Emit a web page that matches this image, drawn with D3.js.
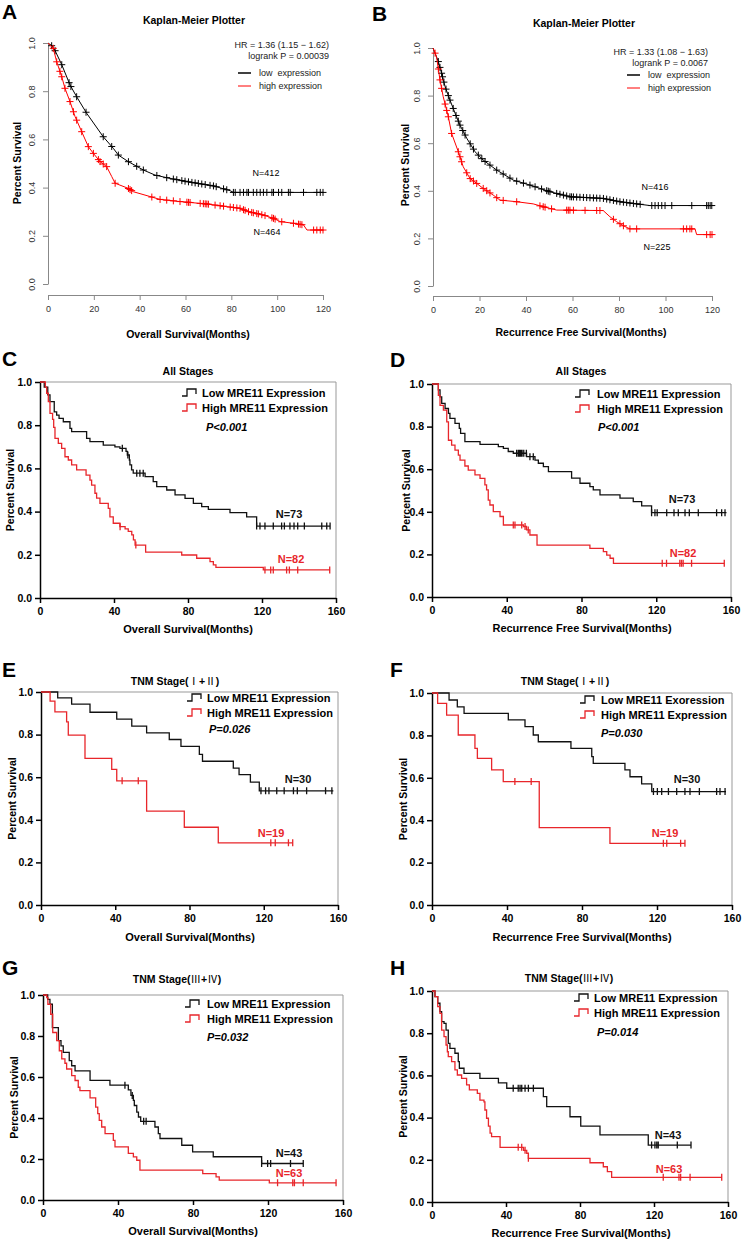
<!DOCTYPE html>
<meta charset="utf-8">
<style>
body { margin: 0; background: #fff; }
svg { display: block; font-family: "Liberation Sans", Arial, sans-serif; }
.tick text { font-family: "Liberation Sans", Arial, sans-serif; }
.plotter .domain, .plotter .tick line { stroke: #888; }
.plotter .tick text { fill: #333; font-size: 9px; }
.prism .domain, .prism .tick line { stroke: #000; stroke-width: 1.5px; }
.prism .tick text { fill: #000; font-size: 10.5px; font-weight: bold; }
.roman { font-family: "Noto Sans CJK SC", "Noto Sans CJK JP", sans-serif; font-weight: normal; }
</style>
<body>
<svg width="742" height="1241"></svg>
<script src="https://d3js.org/d3.v7.min.js"></script>
<script>

// ---- ticks ----
var survTicks = [0, 0.2, 0.4, 0.6, 0.8, 1.0];
var plotterMonths = [0, 20, 40, 60, 80, 100, 120];
var prismMonths = [0, 40, 80, 120, 160];

// ---- panel A : KM plotter, overall survival ----
var aLow = [[0,1],[1.5,0.99],[3,0.97],[6,0.91],[9.6,0.826],[12.5,0.777],[16.9,0.708],[24.1,0.611],[28.5,0.563],[30.7,0.535],[35,0.508],[41.6,0.473],[46.7,0.452],[53.3,0.438],[60.6,0.425],[72.2,0.407],[79.5,0.387],[80.9,0.38],[120,0.38]];
var aLowCens = [1.6,3.1,6,9.2,10,12.5,16.6,24.1,27.8,30.7,35.1,38.7,41.6,47.5,51.8,54.7,56.2,58.4,59.8,61.3,62.8,64.2,65.6,67.1,68.6,70.7,72.2,73.4,76.6,78,80.9,81.7,83.8,85.3,86.8,87.5,89.6,91.1,92.6,94,95.5,97.7,98.4,100.6,102,104.9,105.7,111.5,117.3,118.8,120];
var aHigh = [[0,1],[2.3,0.978],[3.8,0.922],[6,0.86],[7.4,0.812],[9.6,0.757],[11.8,0.695],[14.7,0.632],[17.6,0.57],[19.8,0.542],[22.7,0.508],[25.6,0.487],[27.8,0.446],[29.3,0.418],[35,0.397],[37.2,0.383],[44.5,0.363],[48.9,0.351],[57.6,0.342],[69.3,0.332],[78,0.321],[83.8,0.314],[87.5,0.3],[94,0.286],[98.5,0.272],[101.3,0.259],[107.1,0.252],[111.5,0.245],[113,0.224],[120,0.224]];
var aHighCens = [2.3,3.8,5.2,6,7.4,9.6,11.1,12.5,14.7,17.6,19.8,22,22.7,24.1,25.6,29.3,35.1,35.8,36.5,45.3,48.9,51.8,54.7,57.6,60.6,61.3,62,66.4,67.8,68.6,69.3,70,72.9,75.1,76.6,79.5,80.9,82.4,83.8,85.3,86,87.5,88.9,89.6,91.1,91.8,93.3,94.7,97.7,98.4,99.1,102,107.1,109.3,110,110.8,115.9,117.3,118.8,120];

// ---- panel B : KM plotter, recurrence free survival ----
var bLow = [[0,1],[2.3,0.943],[3.7,0.894],[5.2,0.838],[7.3,0.781],[9.5,0.726],[11.6,0.676],[14.5,0.621],[18.1,0.564],[21.6,0.529],[27.4,0.487],[34.5,0.445],[41.7,0.424],[50.3,0.396],[58.9,0.375],[73.2,0.368],[80.4,0.354],[93.3,0.338],[120,0.338]];
var bLowCens = [2.3,3,3.7,4.1,4.7,5.6,6.6,7.3,8.7,9.9,10.9,11.6,12.8,13.8,16,17.4,19.5,21,22.4,24.5,27.4,30.2,33.1,36,38.9,41.7,43.9,46.7,48.9,49.6,50.3,53.2,54.6,56.1,57.5,58.9,59.6,60.4,61.8,63.2,64.7,66.1,67.5,69,70.4,71.8,73.3,74.7,76.1,77.6,79,80.4,81.9,83.3,84.7,86.2,87.6,89.1,94.1,95.5,96.9,98.4,99.8,102.7,111.3,117.7,118.4,119.2,119.9];
var bHigh = [[0,1],[1.5,0.964],[3,0.866],[4.4,0.795],[6.6,0.711],[8,0.641],[10.9,0.564],[13,0.501],[15.9,0.452],[18.8,0.431],[21.6,0.41],[25.9,0.382],[28.8,0.361],[36,0.354],[43.1,0.345],[47.4,0.333],[53.2,0.319],[73.2,0.317],[76.1,0.291],[79,0.27],[81.9,0.253],[84.7,0.24],[112.7,0.24],[113.4,0.216],[120,0.216]];
var bHighCens = [0.9,2.3,3,3.7,5.2,5.9,6.6,8,10.9,11.6,12.3,14.5,16,17.4,18.8,21.6,23.1,24.5,27.4,30.2,36,46,47.4,48.2,51,57.5,58.2,58.9,60.4,65.4,70.4,71.8,77.6,80.4,81.9,84.7,87.6,107.7,109.1,110.5,111.3,117.7,119.2,120];

// ---- panel C : all stages, OS ----
var cLow = [[0,1],[2.3,0.976],[4.2,0.94],[5.4,0.909],[7.7,0.862],[9,0.847],[10.3,0.832],[12.6,0.816],[16.2,0.785],[17.1,0.77],[25.2,0.739],[27,0.724],[34.2,0.708],[40.5,0.7],[43.2,0.693],[46.5,0.679],[47.2,0.662],[48.3,0.639],[48.6,0.616],[49.5,0.593],[50.4,0.578],[56.8,0.562],[61.2,0.539],[63.1,0.516],[68.5,0.5],[73,0.477],[78.4,0.461],[82.9,0.438],[87.4,0.423],[91,0.41],[102.7,0.395],[111.7,0.376],[117.1,0.333],[156.8,0.333]];
var cLowCens = [44.5,47.5,52.3,54,55.8,117.1,118.9,121.6,126.1,130.6,132.1,135.1,137.3,139.3,142.9,152.3,155,156.8];
var cHigh = [[0,1],[2.9,0.976],[3.6,0.948],[4.5,0.909],[5.4,0.855],[6.8,0.827],[7.4,0.79],[8.1,0.739],[9.9,0.716],[11.7,0.693],[13.5,0.654],[15.3,0.639],[17.1,0.616],[19.8,0.593],[24.9,0.569],[27,0.546],[27.9,0.523],[29.7,0.485],[30.6,0.462],[32.4,0.438],[36.9,0.415],[37.8,0.376],[39.6,0.346],[43.2,0.33],[46,0.32],[47.7,0.308],[49.6,0.292],[50.5,0.269],[51.4,0.245],[57.1,0.212],[76.6,0.199],[84.7,0.184],[91.9,0.168],[93.7,0.153],[95.1,0.142],[120.7,0.13],[156.8,0.13]];
var cHighCens = [43.3,51.8,121.6,124.7,126.1,133.3,134.8,139.3,156.6];

// ---- panel D : all stages, RFS ----
var dLow = [[0,1],[3.4,0.972],[4.3,0.94],[5.2,0.909],[7,0.885],[8.8,0.862],[9.6,0.839],[12.3,0.815],[14.6,0.792],[15.3,0.768],[17.6,0.729],[25.7,0.717],[35.5,0.706],[38.2,0.698],[40.8,0.683],[43.5,0.675],[50.6,0.659],[55.1,0.643],[56.9,0.628],[59.6,0.612],[62.3,0.589],[74.7,0.558],[79.2,0.534],[84.5,0.518],[86.3,0.503],[89.9,0.479],[100.6,0.464],[107.7,0.448],[112.2,0.428],[117.5,0.396],[157.6,0.396]];
var dLowCens = [45.3,46.2,46.8,47.5,48.2,49.1,50.5,52.4,54.2,117.5,119.3,120.5,125.6,129.5,131.8,135.4,137.7,142.5,152.3,155,156.8];
var dHigh = [[0,1],[3.4,0.947],[4.3,0.9],[6.1,0.877],[7.9,0.822],[8.8,0.736],[10.5,0.713],[12.3,0.69],[14.1,0.666],[15,0.643],[17.6,0.615],[19.4,0.596],[23,0.573],[25.7,0.557],[28.3,0.526],[29.2,0.503],[30.1,0.455],[31,0.432],[32.8,0.401],[36.4,0.378],[38.2,0.338],[48.9,0.331],[50.6,0.315],[52.4,0.291],[56.2,0.244],[84.5,0.228],[91.7,0.213],[93.5,0.197],[95.3,0.182],[97.1,0.158],[156.4,0.158]];
var dHighCens = [43.5,44.4,48,49.8,51.5,123.2,125.5,132.6,133.5,134.4,138.9,156.4];

// ---- panel E : TNM I+II, OS ----
var eLow = [[0,1],[9,0.972],[16.5,0.943],[26.4,0.905],[40.8,0.873],[48.9,0.84],[56.9,0.808],[69.1,0.777],[75.4,0.745],[85.3,0.707],[87,0.675],[103.6,0.643],[106.7,0.612],[112.8,0.577],[117.6,0.536],[157.5,0.536]];
var eLowCens = [118.5,121,122.8,127,131,136,138.1,143.1,153.3,156.7];
var eHigh = [[0,1],[4.9,0.957],[7.5,0.907],[13.8,0.86],[14.7,0.798],[23.7,0.688],[38.1,0.637],[40.8,0.583],[56.9,0.441],[77.2,0.365],[95.5,0.292],[135.6,0.292]];
var eHighCens = [43.7,52.4,123.8,126.2,133.3,135.6];

// ---- panel F : TNM I+II, RFS ----
var fLow = [[0,1],[9.1,0.967],[13.5,0.935],[17.1,0.904],[40.7,0.873],[49.6,0.841],[54,0.802],[56.7,0.77],[74.1,0.739],[85.2,0.7],[86,0.668],[102.9,0.637],[105.6,0.605],[111.8,0.571],[117.2,0.535],[156.8,0.535]];
var fLowCens = [118.1,120.2,122.5,126.1,130.5,134.9,137.6,142.6,151.8,153.6,156.3];
var fHigh = [[0,1],[3,0.951],[7.8,0.896],[14,0.802],[22.9,0.739],[24.2,0.692],[31.8,0.637],[38,0.582],[57.2,0.365],[94.9,0.291],[134.9,0.291]];
var fHighCens = [44.2,52.9,123.4,125.2,132.6,134.9];

// ---- panel G : TNM III+IV, OS ----
var gLow = [[0,1],[2.5,0.979],[3.7,0.955],[5,0.841],[8.2,0.777],[9.6,0.752],[10.8,0.72],[14,0.68],[15.3,0.655],[17.1,0.63],[25.1,0.584],[35.7,0.56],[45.5,0.537],[46.9,0.51],[48.2,0.486],[48.7,0.461],[50,0.429],[50.9,0.405],[52.1,0.384],[59.7,0.356],[61.5,0.324],[62.4,0.3],[74,0.267],[79.8,0.235],[90.8,0.211],[116.6,0.178],[138.8,0.178]];
var gLowCens = [43.7,47.6,53.7,55,116.6,119.8,121.4,132,138.8];
var gHigh = [[0,1],[2,0.987],[2.6,0.955],[4.1,0.906],[5.2,0.817],[7.3,0.777],[8.7,0.728],[10,0.688],[11.7,0.667],[12.6,0.639],[15.3,0.607],[17.1,0.583],[18.8,0.55],[19.7,0.534],[25.1,0.498],[28.1,0.453],[29.2,0.421],[30,0.388],[31.3,0.356],[33.1,0.324],[37.5,0.291],[38.4,0.259],[45.5,0.227],[48.2,0.21],[50,0.194],[51.7,0.146],[85.2,0.129],[92.3,0.113],[94,0.097],[120.7,0.084],[156.3,0.084]];
var gHighCens = [125.1,133.2,134.1,138.8,156.3];

// ---- panel H : TNM III+IV, RFS ----
var hLow = [[0,1],[1.6,0.973],[3.1,0.942],[4.3,0.902],[5.2,0.855],[6.5,0.847],[7.6,0.815],[8.8,0.752],[9.7,0.728],[12.4,0.705],[14.2,0.665],[14.8,0.634],[17.3,0.61],[25.9,0.586],[35.9,0.565],[40.4,0.539],[60.2,0.499],[62,0.452],[74.6,0.404],[80.4,0.36],[90.8,0.318],[116.9,0.27],[140,0.27]];
var hLowCens = [43.9,46.6,47.6,48.5,50.3,52.1,54.8,118.7,120.5,121.5,122.3,132.6,140];
var hHigh = [[0,1],[1.6,0.973],[3.1,0.926],[4.3,0.894],[5.2,0.815],[6.5,0.784],[7.6,0.744],[8.3,0.712],[8.8,0.689],[10.6,0.665],[12.4,0.626],[13.7,0.602],[16,0.586],[18.7,0.555],[20.2,0.531],[24.5,0.515],[25.9,0.483],[28.1,0.475],[28.6,0.436],[29.5,0.397],[30.5,0.36],[31.4,0.326],[32.2,0.31],[36.8,0.259],[49.5,0.245],[51.2,0.231],[52.1,0.207],[85.4,0.186],[92.6,0.167],[94.8,0.144],[97.1,0.117],[156.6,0.117]];
var hHighCens = [46.6,48.5,50.3,52.1,125,133.5,134.4,139.5,156.6];

// ---- texts ----
var letters = ["A", "B", "C", "D", "E", "F", "G", "H"];
var panelTitles = ["Kaplan-Meier Plotter", "Kaplan-Meier Plotter", "All Stages", "All Stages",
                   "TNM Stage(Ⅰ+Ⅱ)", "TNM Stage(Ⅰ+Ⅱ)", "TNM Stage(Ⅲ+Ⅳ)", "TNM Stage(Ⅲ+Ⅳ)"];
var xTitles = ["Overall Survival(Months)", "Recurrence Free Survival(Months)"];
var hrTexts = ["HR = 1.36 (1.15 − 1.62)", "HR = 1.33 (1.08 − 1.63)"];
var logrankTexts = ["logrank P = 0.00039", "logrank P = 0.0067"];
var plotterLegend = ["low  expression", "high expression"];
var prismLegendLow = ["Low MRE11 Expression", "Low MRE11 Expression", "Low MRE11 Expression",
                      "Low MRE11 Exoression", "Low MRE11 Expression", "Low MRE11 Expression"];
var prismLegendHigh = "High MRE11 Expression";
var pValues = ["P<0.001", "P<0.001", "P=0.026", "P=0.030", "P=0.032", "P=0.014"];
var nLow = ["N=412", "N=416", "N=73", "N=73", "N=30", "N=30", "N=43", "N=43"];
var nHigh = ["N=464", "N=225", "N=82", "N=82", "N=19", "N=19", "N=63", "N=63"];

var RED = "#e8262b";
var svg = d3.select("svg");

// survival level at time t
function stepAt(pts, t) {
  var s = pts[0][1];
  pts.forEach(function(p) { if (p[0] <= t) s = p[1]; });
  return s;
}
function linAt(pts, t) {
  for (var i = 1; i < pts.length; i++) {
    if (pts[i][0] >= t) {
      var a = pts[i-1], b = pts[i];
      var f = b[0] === a[0] ? 1 : (t - a[0]) / (b[0] - a[0]);
      return a[1] + f * (b[1] - a[1]);
    }
  }
  return pts[pts.length-1][1];
}

function rotLabel(g, txt, cx, cy) {
  g.append("text")
    .attr("transform", "translate(" + (cx + 4) + "," + cy + ") rotate(-90)")
    .attr("text-anchor", "middle")
    .style("font-size", "10.5px").style("font-weight", "bold")
    .text(txt);
}

function letter(i, lx, ly) {
  svg.append("text").attr("x", lx).attr("y", ly)
    .style("font-size", "21px").style("font-weight", "bold")
    .text(letters[i]);
}

// title text, roman numerals set in a CJK face like the original
function titleText(sel, str) {
  str.split(/([ⅠⅡⅢⅣ])/).forEach(function(part) {
    if (!part) return;
    var t = sel.append("tspan").text(part);
    if (/[ⅠⅡⅢⅣ]/.test(part)) t.attr("class", "roman");
  });
}

// ================= KM plotter panels (A, B) =================
var plotterPanels = [
  {i: 0, lx: 2, ly: 19, xr: [48, 323], yr: [284, 43], axisY: 295, titleX: 194, titleY: 24,
   xlabX: 188, xlabY: 338, ylabX: 17, ylabY: 163, hrX: 329, hrY: 48, legX: 238, legY: 73,
   low: aLow, lowC: aLowCens, high: aHigh, highC: aHighCens, nLowPos: [266, 176], nHighPos: [267, 235]},
  {i: 1, lx: 372, ly: 21, xr: [433, 712], yr: [286, 48], axisY: 296, titleX: 584, titleY: 27,
   xlabX: 581, xlabY: 336, ylabX: 405, ylabY: 165, hrX: 708, hrY: 55, legX: 627, legY: 75,
   low: bLow, lowC: bLowCens, high: bHigh, highC: bHighCens, nLowPos: [655, 190], nHighPos: [657, 250]}
];

plotterPanels.forEach(function(p) {
  var x = d3.scaleLinear().domain([0, 120]).range(p.xr),
      y = d3.scaleLinear().domain([0, 1]).range(p.yr);
  var g = svg.append("g").attr("class", "plotter");

  letter(p.i, p.lx, p.ly);

  var ya = g.append("g").attr("transform", "translate(" + p.xr[0] + ",0)")
    .call(d3.axisLeft(y).tickValues(survTicks).tickSize(5).tickSizeOuter(0).tickFormat(d3.format(".1f")));
  ya.selectAll(".tick text")
    .attr("x", 0).attr("dy", null).attr("text-anchor", "middle")
    .attr("transform", "translate(-13,0) rotate(-90)");

  g.append("g").attr("transform", "translate(0," + p.axisY + ")")
    .call(d3.axisBottom(x).tickValues(plotterMonths).tickSize(5).tickSizeOuter(0).tickPadding(6));

  g.append("text").attr("x", p.titleX).attr("y", p.titleY).attr("text-anchor", "middle")
    .style("font-size", "10.5px").style("font-weight", "bold").text(panelTitles[p.i]);
  g.append("text").attr("x", p.xlabX).attr("y", p.xlabY).attr("text-anchor", "middle")
    .style("font-size", "10.5px").style("font-weight", "bold").text(xTitles[p.i]);
  rotLabel(g, "Percent Survival", p.ylabX, p.ylabY);

  var line = d3.line().x(function(d) { return x(d[0]); }).y(function(d) { return y(d[1]); });

  [[p.low, p.lowC, "#000"], [p.high, p.highC, "#f00"]].forEach(function(c) {
    g.append("path").datum(c[0]).attr("d", line)
      .attr("fill", "none").attr("stroke", c[2]).attr("stroke-width", 1);
    g.append("path")
      .attr("d", c[1].map(function(t) {
        var px = x(t), py = y(linAt(c[0], t));
        return "M" + (px - 3.5) + "," + py + "H" + (px + 3.5) + "M" + px + "," + (py - 3.5) + "V" + (py + 3.5);
      }).join(""))
      .attr("fill", "none").attr("stroke", c[2]).attr("stroke-width", 1);
  });

  // legend
  g.append("text").attr("x", p.hrX).attr("y", p.hrY).attr("text-anchor", "end")
    .style("font-size", "9px").style("fill", "#222").text(hrTexts[p.i]);
  g.append("text").attr("x", p.hrX).attr("y", p.hrY + 11).attr("text-anchor", "end")
    .style("font-size", "9px").style("fill", "#222").text(logrankTexts[p.i]);
  ["#000", "#f00"].forEach(function(col, k) {
    var ly = p.legY + k * 13;
    g.append("line").attr("x1", p.legX).attr("x2", p.legX + 13).attr("y1", ly).attr("y2", ly)
      .attr("stroke", col).attr("stroke-width", k ? 1 : 1.5);
    g.append("text").attr("x", p.legX + 21).attr("y", ly + 3)
      .style("font-size", "9px").style("white-space", "pre").style("fill", "#222")
      .text(plotterLegend[k]);
  });

  g.append("text").attr("x", p.nLowPos[0]).attr("y", p.nLowPos[1]).attr("text-anchor", "middle")
    .style("font-size", "9px").text(nLow[p.i]);
  g.append("text").attr("x", p.nHighPos[0]).attr("y", p.nHighPos[1]).attr("text-anchor", "middle")
    .style("font-size", "9px").text(nHigh[p.i]);
});

// ================= Prism style panels (C - H) =================
var prismPanels = [
  {i: 2, lx: 2, ly: 366, xr: [40, 336], yr: [598, 382], titleX: 188, titleY: 375, xlabY: 633, xlabX: 188, ylabX: 10,
   legSym: 182, legText: 202, legY: 393, pX: 206, pY: 427, nLowPos: [289, 514], nHighPos: [291, 559], xt: 0,
   low: cLow, lowC: cLowCens, high: cHigh, highC: cHighCens},
  {i: 3, lx: 390, ly: 367, xr: [432, 731], yr: [597, 384], titleX: 581, titleY: 375, xlabY: 632, xlabX: 582, ylabX: 406,
   legSym: 575, legText: 597, legY: 394, pX: 598, pY: 427, nLowPos: [682, 499], nHighPos: [683, 553], xt: 1,
   low: dLow, lowC: dLowCens, high: dHigh, highC: dHighCens},
  {i: 4, lx: 2, ly: 677, xr: [41, 338], yr: [905, 692], titleX: 175, titleY: 685, xlabY: 941, xlabX: 190, ylabX: 12,
   legSym: 187, legText: 207, legY: 698, pX: 209, pY: 729, nLowPos: [298, 779], nHighPos: [271, 833], xt: 0,
   low: eLow, lowC: eLowCens, high: eHigh, highC: eHighCens},
  {i: 5, lx: 390, ly: 677, xr: [432, 732], yr: [905, 693], titleX: 565, titleY: 685, xlabY: 941, xlabX: 582, ylabX: 403,
   legSym: 580, legText: 601, legY: 700, pX: 601, pY: 733, nLowPos: [687, 779], nHighPos: [665, 833], xt: 1,
   low: fLow, lowC: fLowCens, high: fHigh, highC: fHighCens},
  {i: 6, lx: 2, ly: 975, xr: [43, 343], yr: [1200, 995], titleX: 177, titleY: 983, xlabY: 1235, xlabX: 193, ylabX: 14,
   legSym: 185, legText: 207, legY: 1004, pX: 207, pY: 1037, nLowPos: [289, 1153], nHighPos: [289, 1173], xt: 0,
   low: gLow, lowC: gLowCens, high: gHigh, highC: gHighCens},
  {i: 7, lx: 390, ly: 975, xr: [432, 728], yr: [1202, 991], titleX: 569, titleY: 982, xlabY: 1237, xlabX: 581, ylabX: 403,
   legSym: 574, legText: 594, legY: 998, pX: 597, pY: 1032, nLowPos: [668, 1135], nHighPos: [669, 1169], xt: 1,
   low: hLow, lowC: hLowCens, high: hHigh, highC: hHighCens}
];

prismPanels.forEach(function(p) {
  var x = d3.scaleLinear().domain([0, 160]).range(p.xr),
      y = d3.scaleLinear().domain([0, 1]).range(p.yr);
  var g = svg.append("g").attr("class", "prism");
  var bold = function(sel, size) { return sel.style("font-size", (size || 11) + "px").style("font-weight", "bold"); };

  letter(p.i, p.lx, p.ly);

  // grey frame on top and right
  g.append("path")
    .attr("d", "M" + p.xr[0] + "," + p.yr[1] + "H" + p.xr[1] + "V" + p.yr[0])
    .attr("fill", "none").attr("stroke", "#999").attr("stroke-width", 1);

  g.append("g").attr("transform", "translate(" + p.xr[0] + ",0)")
    .call(d3.axisLeft(y).tickValues(survTicks).tickSize(5).tickSizeOuter(0).tickPadding(3).tickFormat(d3.format(".1f")));
  g.append("g").attr("transform", "translate(0," + p.yr[0] + ")")
    .call(d3.axisBottom(x).tickValues(prismMonths).tickSize(5).tickSizeOuter(0).tickPadding(5));

  titleText(bold(g.append("text").attr("x", p.titleX).attr("y", p.titleY).attr("text-anchor", "middle"), 10.5),
            panelTitles[p.i]);
  bold(g.append("text").attr("x", p.xlabX).attr("y", p.xlabY).attr("text-anchor", "middle"))
    .text(xTitles[p.xt]);
  rotLabel(g, "Percent Survival", p.ylabX, (p.yr[0] + p.yr[1]) / 2);

  var line = d3.line().curve(d3.curveStepAfter)
    .x(function(d) { return x(d[0]); }).y(function(d) { return y(d[1]); });

  [[p.low, p.lowC, "#111"], [p.high, p.highC, RED]].forEach(function(c) {
    g.append("path").datum(c[0]).attr("d", line)
      .attr("fill", "none").attr("stroke", c[2]).attr("stroke-width", 1.3);
    g.append("path")
      .attr("d", c[1].map(function(t) {
        var px = x(t), py = y(stepAt(c[0], t));
        return "M" + px + "," + (py - 3.5) + "V" + (py + 3.5);
      }).join(""))
      .attr("fill", "none").attr("stroke", c[2]).attr("stroke-width", 1.3);
  });

  // legend with little step symbols
  [["#111", prismLegendLow[p.i - 2]], [RED, prismLegendHigh]].forEach(function(c, k) {
    var ly = p.legY + k * 15, sx = p.legSym;
    g.append("path")
      .attr("d", "M" + sx + "," + (ly + 3) + "H" + (sx + 5) + "V" + (ly - 4) + "H" + (sx + 14) + "V" + (ly + 1))
      .attr("fill", "none").attr("stroke", c[0]).attr("stroke-width", 1.3);
    bold(g.append("text").attr("x", p.legText).attr("y", ly + 4)).text(c[1]);
  });
  bold(g.append("text").attr("x", p.pX).attr("y", p.pY + 4).style("font-style", "italic"))
    .text(pValues[p.i - 2]);

  bold(g.append("text").attr("x", p.nLowPos[0]).attr("y", p.nLowPos[1] + 4).attr("text-anchor", "middle"))
    .style("fill", "#111").text(nLow[p.i]);
  bold(g.append("text").attr("x", p.nHighPos[0]).attr("y", p.nHighPos[1] + 4).attr("text-anchor", "middle"))
    .style("fill", RED).text(nHigh[p.i]);
});

</script>
</body>
